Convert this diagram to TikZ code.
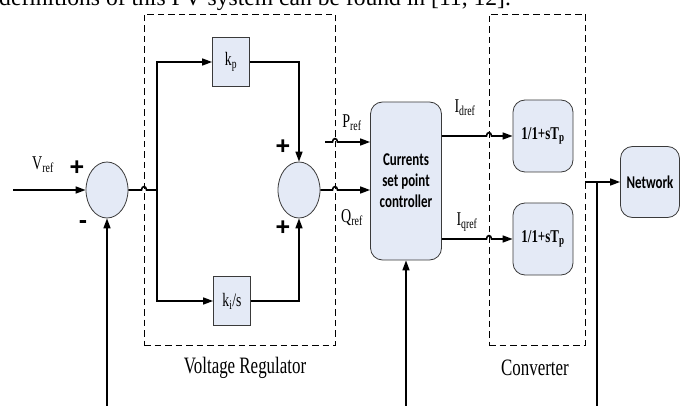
\documentclass[tikz,border=0pt]{standalone}
\usepackage{fontspec}
\setmainfont{Liberation Serif}[FakeStretch=0.72]
\newfontfamily\bodyfont{Liberation Serif}
\newfontfamily\ctlfont{Carlito}[FakeStretch=0.72]
\newfontfamily\sgnfont{Liberation Sans}
\usepackage{tikz}
\usetikzlibrary{arrows.meta, positioning, shapes.geometric}
\definecolor{bfill}{HTML}{E4EAF6}
\definecolor{bdraw}{HTML}{3A3A3A}

\tikzset{
  blk/.style={draw=bdraw, fill=bfill, line width=0.8pt, inner sep=0pt},
  sumnode/.style={blk, ellipse, minimum width=42pt, minimum height=56pt},
  gainbox/.style={blk, rectangle, minimum width=37pt, minimum height=49pt, font=\fontsize{19}{21}\selectfont},
  rbox/.style={blk, rounded corners=12pt, minimum width=60pt, minimum height=72pt},
  dashbox/.style={draw, dash pattern=on 6.5pt off 4pt, line width=0.6pt, inner sep=0pt},
  sig/.style={line width=1.6pt, -{Triangle[length=10pt, width=7pt]}},
  wire/.style={line width=1.6pt},
  lbl/.style={font=\fontsize{19.5}{21}\selectfont, inner sep=0pt},
  captext/.style={font=\fontsize{23.5}{26}\selectfont, inner sep=0pt},
  sgn/.style={font=\sgnfont\bfseries\fontsize{25}{27}\selectfont, inner sep=0pt},
}

\begin{document}
\begin{tikzpicture}[x=1pt, y=-1pt]
\useasboundingbox (0,0) rectangle (685,406);
\clip (0,0) rectangle (685,406);
\node[font=\bodyfont\fontsize{23.6}{26}\selectfont, anchor=base west, inner sep=0pt]
  (toptxt) at (-1,5.5) {definitions of this PV system can be found in [11, 12].};
\node[dashbox, minimum width=191pt, minimum height=331pt] (vr) at (239.5,179.5) {};
\node[dashbox, minimum width=96pt, minimum height=331pt] (cv) at (537,179.5) {};
\node[captext] (vrlbl) at (245,368) {Voltage Regulator};
\node[captext] (cvlbl) at (535,368) {Converter};
\node[sumnode] (sumL) at (107,190) {};
\node[sumnode] (sumR) at (299,190) {};
\node[gainbox] (kp) at (231,62) {k\textsubscript{p}};
\node[gainbox] (ki) at (232,301) {k\textsubscript{i}/s};
\node[blk, rounded corners=12pt, minimum width=71pt, minimum height=158pt, align=center,
  font=\ctlfont\bfseries\fontsize{18}{21}\selectfont] (csp) at (406,181) {Currents\\set point\\controller};
\node[rbox, font=\bfseries\fontsize{18}{20}\selectfont] (conv1) at (543,136) {1/1+sT\textsubscript{p}};
\node[rbox, font=\bfseries\fontsize{18}{20}\selectfont] (conv2) at (543,239) {1/1+sT\textsubscript{p}};
\node[rbox, minimum width=59pt, minimum height=71pt, font=\ctlfont\bfseries\fontsize{18}{20}\selectfont]
  (net) at (650,182) {Network};
\coordinate (vin) at (13,190);
\coordinate (fbL) at (107,406);
\coordinate (br) at (157,190);
\coordinate (pin) at (325,142);
\coordinate (fbC) at (406,406);
\coordinate (nin) at (585,182);
\coordinate (tap) at (597,182);
\coordinate (tapend) at (597,406);
\draw[sig] (vin) -- (sumL.west);
\draw[sig] (fbL) -- (sumL.south);
\draw[wire] (sumL.east) -- (141.5,190) .. controls (141.5,185.5) and (146.5,185.5) .. (146.5,190) -- (br);
\draw[sig] (br) |- (kp.west);
\draw[sig] (br) |- (ki.west);
\draw[sig] (kp.east) -| (sumR.north);
\draw[sig] (ki.east) -| (sumR.south);
\draw[sig] (sumR.east) -- (332.5,190) .. controls (332.5,185.5) and (337.5,185.5) .. (337.5,190)
  -- (sumR.east -| csp.west);
\draw[sig] (pin) -- (332.5,142) .. controls (332.5,137.5) and (337.5,137.5) .. (337.5,142)
  -- (pin -| csp.west);
\draw[sig] (conv1.west -| csp.east) -- (486.5,136) .. controls (486.5,131.5) and (491.5,131.5) .. (491.5,136)
  -- (conv1.west);
\draw[sig] (conv2.west -| csp.east) -- (486.5,239) .. controls (486.5,234.5) and (491.5,234.5) .. (491.5,239)
  -- (conv2.west);
\draw[sig] (fbC) -- (csp.south);
\draw[sig] (nin) -- (net.west);
\draw[wire] (tap) -- (tapend);
\node[lbl] (vref) at (43,165) {V\textsubscript{ref}};
\node[sgn] (plusL) at (77,168) {+};
\node[sgn] (minusL) at (83,225) {-};
\node[sgn] (plusT) at (283,147) {+};
\node[sgn] (plusB) at (283,228) {+};
\node[lbl] (pref) at (352,123) {P\textsubscript{ref}};
\node[lbl] (qref) at (352,218) {Q\textsubscript{ref}};
\node[lbl] (idref) at (465,108) {I\textsubscript{dref}};
\node[lbl] (iqref) at (467,222) {I\textsubscript{qref}};
\end{tikzpicture}
\end{document}
